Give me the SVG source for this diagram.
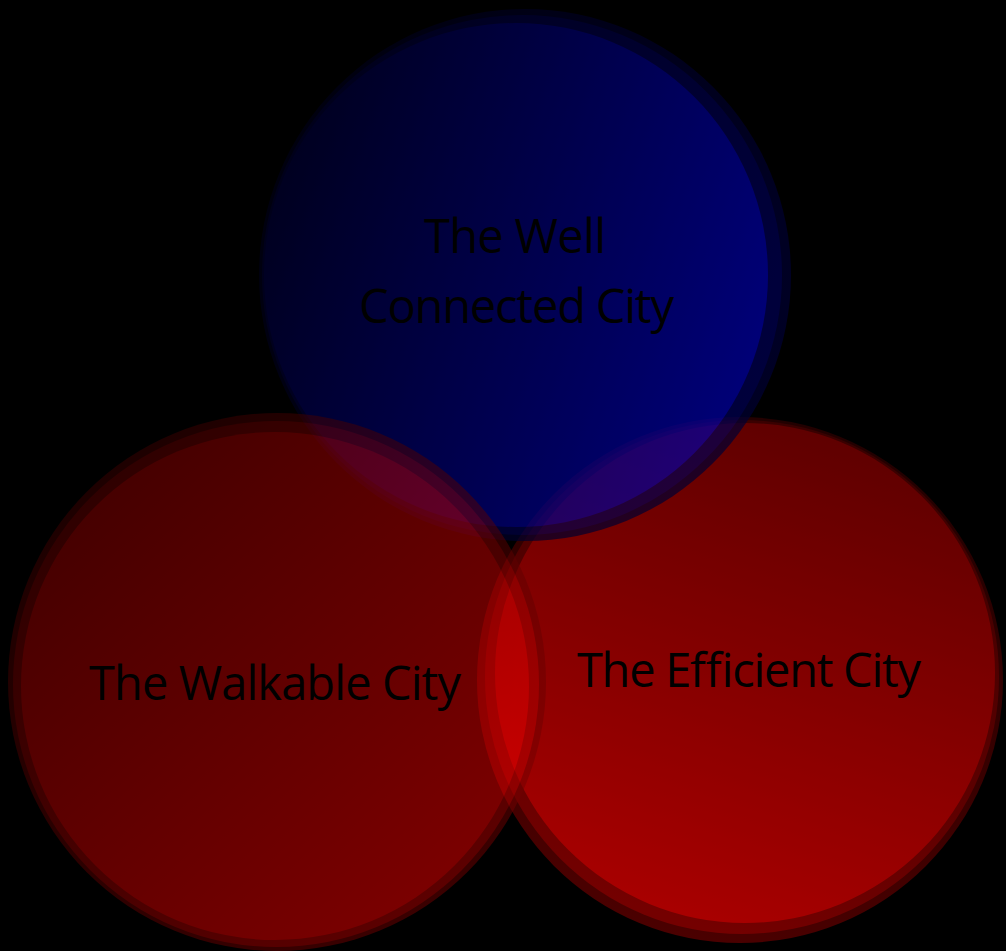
<svg xmlns="http://www.w3.org/2000/svg" width="1006" height="951" viewBox="0 0 1006 951">
  <defs>
    <!-- blue disc: dark navy on the left, brighter blue on the right -->
    <linearGradient id="blueFill" x1="0.05" y1="0.3" x2="1" y2="0.65">
      <stop offset="0" stop-color="#000030"/>
      <stop offset="1" stop-color="#0000ac"/>
    </linearGradient>
    <linearGradient id="blueHalo1" x1="0" y1="0.3" x2="1" y2="0.7">
      <stop offset="0" stop-color="#000024"/>
      <stop offset="1" stop-color="#000058"/>
    </linearGradient>
    <linearGradient id="blueHalo2" x1="0" y1="0.3" x2="1" y2="0.7">
      <stop offset="0" stop-color="#000014"/>
      <stop offset="1" stop-color="#000036"/>
    </linearGradient>
    <!-- left red disc -->
    <linearGradient id="leftFill" x1="0.1" y1="0.05" x2="0.9" y2="0.95">
      <stop offset="0" stop-color="#820000"/>
      <stop offset="1" stop-color="#ff0000"/>
    </linearGradient>
    <linearGradient id="leftHalo1" x1="0.1" y1="0.05" x2="0.9" y2="0.95">
      <stop offset="0" stop-color="#560000"/>
      <stop offset="1" stop-color="#c00000"/>
    </linearGradient>
    <linearGradient id="leftHalo2" x1="0.1" y1="0.05" x2="0.9" y2="0.95">
      <stop offset="0" stop-color="#360000"/>
      <stop offset="1" stop-color="#7a0000"/>
    </linearGradient>
    <!-- right red disc -->
    <linearGradient id="rightFill" x1="0.65" y1="0" x2="0.35" y2="1">
      <stop offset="0" stop-color="#860000"/>
      <stop offset="1" stop-color="#f20000"/>
    </linearGradient>
    <linearGradient id="rightHalo1" x1="0.65" y1="0" x2="0.35" y2="1">
      <stop offset="0" stop-color="#500000"/>
      <stop offset="1" stop-color="#a80000"/>
    </linearGradient>
    <linearGradient id="rightHalo2" x1="0.65" y1="0" x2="0.35" y2="1">
      <stop offset="0" stop-color="#300000"/>
      <stop offset="1" stop-color="#6c0000"/>
    </linearGradient>
  </defs>
  <style>
    .label { font-family: "Open Sans", "Noto Sans", "DejaVu Sans", sans-serif; font-size: 47px; font-stretch: 90%; fill: #000000; text-anchor: start; }
  </style>

  <rect x="0" y="0" width="1006" height="951" fill="#000000"/>

  <!-- lower right circle -->
  <g id="node-efficient">
    <g opacity="0.7">
      <circle cx="740" cy="680" r="263" fill="url(#rightHalo2)"/>
      <circle cx="742" cy="677" r="257" fill="url(#rightHalo1)"/>
      <circle cx="745" cy="673" r="250" fill="url(#rightFill)"/>
    </g>
    <text class="label" x="577" y="687" textLength="344" lengthAdjust="spacing">The Efficient City</text>
  </g>

  <!-- top circle -->
  <g id="node-connected">
    <g opacity="0.7">
      <circle cx="525" cy="275" r="266" fill="url(#blueHalo2)"/>
      <circle cx="522" cy="275" r="260" fill="url(#blueHalo1)"/>
      <circle cx="516" cy="275" r="252" fill="url(#blueFill)"/>
    </g>
    <text class="label" x="424" y="253" textLength="182" lengthAdjust="spacing">The Well</text>
    <text class="label" x="359" y="323" textLength="315" lengthAdjust="spacing">Connected City</text>
  </g>

  <!-- lower left circle -->
  <g id="node-walkable">
    <g opacity="0.5">
      <circle cx="277" cy="682" r="269" fill="url(#leftHalo2)"/>
      <circle cx="276" cy="684" r="263" fill="url(#leftHalo1)"/>
      <circle cx="275" cy="686" r="254" fill="url(#leftFill)"/>
    </g>
    <text class="label" x="89" y="700" textLength="372" lengthAdjust="spacing">The Walkable City</text>
  </g>

  <!-- the diagram has no connectors -->
  <g id="connectors"/>
</svg>
